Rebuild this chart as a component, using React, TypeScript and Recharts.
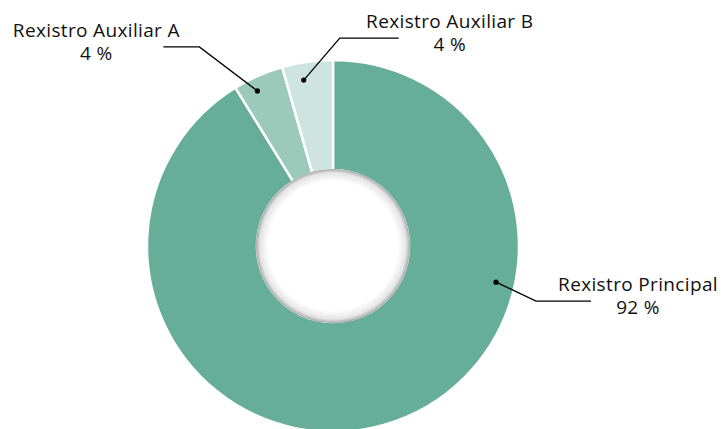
import { Pie, PieChart, Cell } from "recharts";

const names = ["Rexistro Principal", "Rexistro Auxiliar A", "Rexistro Auxiliar B"];
const shares = [91.2, 4.4, 4.4];
const shareLabels = ["92 %", "4 %", "4 %"];
const colors = ["#66ae98", "#9bcaba", "#cde5de"];

const data = names.map((name, i) => ({ name, value: shares[i], label: shareLabels[i] }));
const hole = [{ name: "hole", value: 1 }];

if (typeof document !== "undefined") document.body.style.margin = "0";

const RAD = Math.PI / 180;

// leader line layout per slice: anchor angle, radius, elbow offset, run length, text offset
const layout = [
  { angle: -12.5, r: 167, ex: 40, ey: 19, run: 55, tx: 102 },
  { angle: 116, r: 172.5, ex: -58, ey: -44, run: -36, tx: -103 },
  { angle: 100, r: 168.5, ex: 36, ey: -42, run: 59, tx: 110 },
];

function renderLabel(props: any) {
  const { cx, cy, index, payload } = props;
  const l = layout[index];
  const a = l.angle * RAD;
  const x = cx + l.r * Math.cos(a);
  const y = cy - l.r * Math.sin(a);
  const ex = x + l.ex;
  const ey = y + l.ey;
  const tx = ex + l.tx;
  const font = { fontFamily: "'Open Sans', sans-serif", fontSize: 19, letterSpacing: 0.35, fill: "#111" };
  return (
    <g key={`lbl-${index}`}>
      <circle cx={x} cy={y} r={2.6} fill="#000" />
      <polyline points={`${x},${y} ${ex},${ey} ${ex + l.run},${ey}`} fill="none" stroke="#000" strokeWidth={1.3} />
      <text x={tx} y={ey - 10} textAnchor="middle" {...font}>
        {payload.name}
      </text>
      <text x={tx} y={ey + 13} textAnchor="middle" {...font}>
        {payload.label}
      </text>
    </g>
  );
}

export default function App() {
  return (
    <PieChart width={721} height={429} margin={{ top: 0, right: 0, bottom: 0, left: 0 }}>
      <defs>
        <radialGradient id="holeShade" cx="50%" cy="50%" r="50%">
          <stop offset="0%" stopColor="#ffffff" />
          <stop offset="84%" stopColor="#ffffff" />
          <stop offset="95%" stopColor="#e4e4e4" />
          <stop offset="100%" stopColor="#a8a8a8" />
        </radialGradient>
      </defs>
      <Pie
        data={data}
        dataKey="value"
        nameKey="name"
        cx={333}
        cy={246}
        innerRadius={76}
        outerRadius={186}
        startAngle={90}
        endAngle={-270}
        stroke="#ffffff"
        strokeWidth={2.5}
        label={renderLabel}
        labelLine={false}
        isAnimationActive={false}
      >
        {data.map((d, i) => (
          <Cell key={d.name} fill={colors[i]} />
        ))}
      </Pie>
      <Pie
        data={hole}
        dataKey="value"
        cx={333}
        cy={246}
        innerRadius={0}
        outerRadius={77}
        fill="url(#holeShade)"
        stroke="none"
        isAnimationActive={false}
      />
    </PieChart>
  );
}
